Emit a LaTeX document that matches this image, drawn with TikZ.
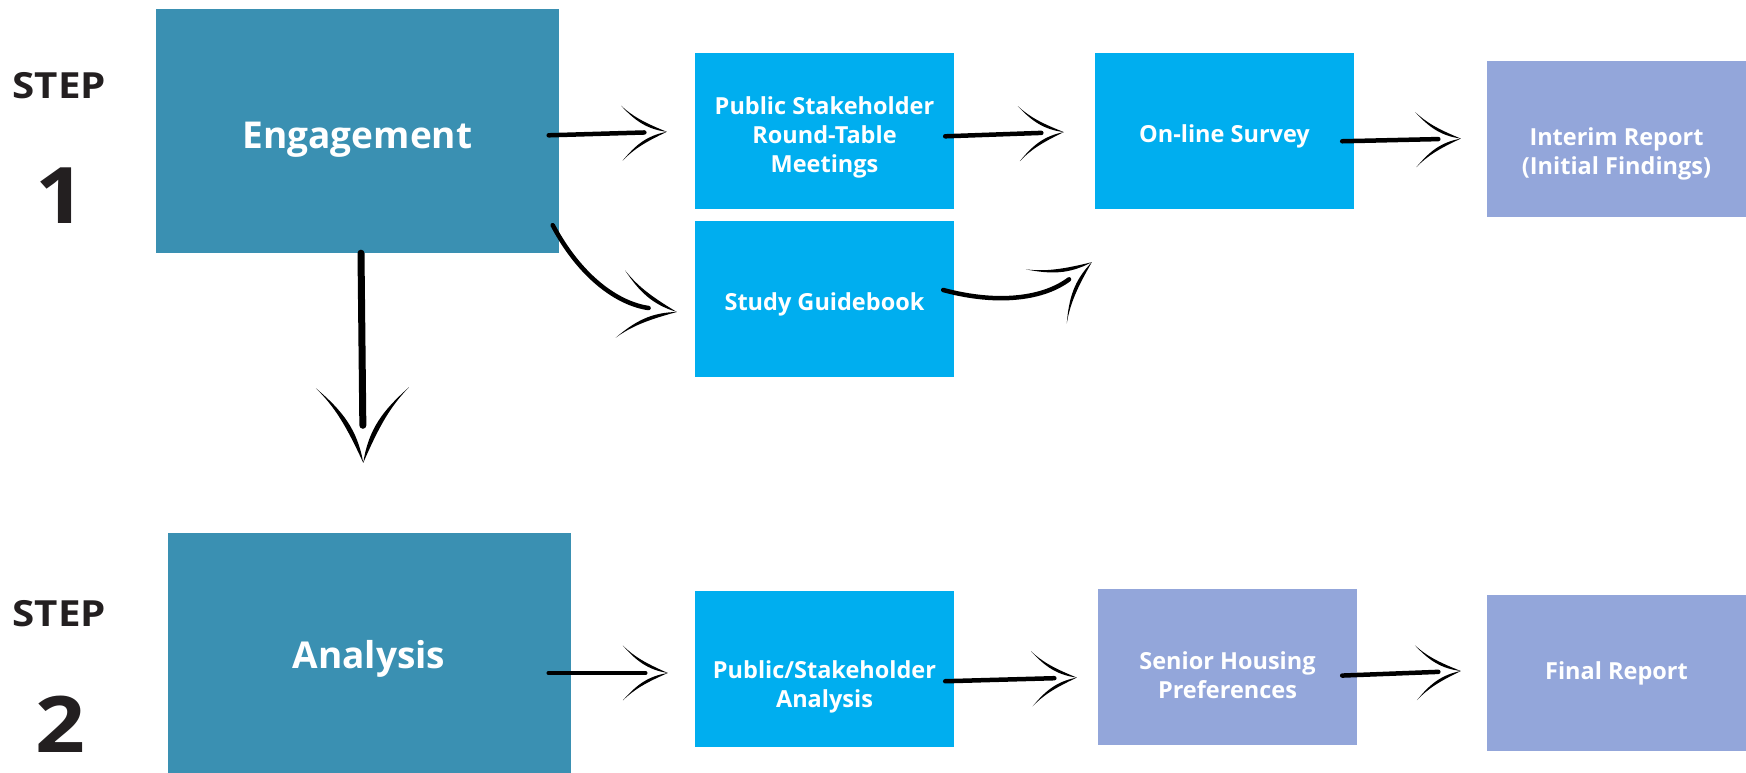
\documentclass[tikz,border=0pt]{standalone}
\usepackage{fontspec}
\setmainfont{Open Sans}
\newfontfamily\stepfont[FakeStretch=1.12]{Open Sans}
\usetikzlibrary{arrows.meta}

\definecolor{stageblue}{RGB}{58,144,178}
\definecolor{taskblue}{RGB}{0,174,239}
\definecolor{reportblue}{RGB}{147,166,218}
\definecolor{stepgray}{RGB}{35,31,32}

% invisible strut that pushes a node text down
\newcommand{\dropby}[1]{\rule{0pt}{#1}}

% hand drawn open arrow head
\pgfdeclarearrow{
  name = Brush,
  parameters = {\the\pgfarrowlength,\the\pgfarrowwidth},
  setup code = {
    \pgfarrowssettipend{0pt}
    \pgfarrowssetlineend{-.5\pgfarrowlength}
    \pgfarrowssetbackend{-\pgfarrowlength}
    \pgfarrowshullpoint{0pt}{0pt}
    \pgfarrowsupperhullpoint{-\pgfarrowlength}{.5\pgfarrowwidth}
    \pgfarrowssavethe\pgfarrowlength
    \pgfarrowssavethe\pgfarrowwidth
  },
  drawing code = {
    \pgfpathmoveto{\pgfqpoint{0pt}{0pt}}
    \pgfpathcurveto{\pgfqpoint{-.5\pgfarrowlength}{.18\pgfarrowwidth}}{\pgfqpoint{-.75\pgfarrowlength}{.3\pgfarrowwidth}}{\pgfqpoint{-\pgfarrowlength}{.5\pgfarrowwidth}}
    \pgfpathcurveto{\pgfqpoint{-.7\pgfarrowlength}{.22\pgfarrowwidth}}{\pgfqpoint{-.45\pgfarrowlength}{.06\pgfarrowwidth}}{\pgfqpoint{0pt}{0pt}}
    \pgfpathclose
    \pgfpathmoveto{\pgfqpoint{0pt}{0pt}}
    \pgfpathcurveto{\pgfqpoint{-.5\pgfarrowlength}{-.18\pgfarrowwidth}}{\pgfqpoint{-.75\pgfarrowlength}{-.3\pgfarrowwidth}}{\pgfqpoint{-\pgfarrowlength}{-.5\pgfarrowwidth}}
    \pgfpathcurveto{\pgfqpoint{-.7\pgfarrowlength}{-.22\pgfarrowwidth}}{\pgfqpoint{-.45\pgfarrowlength}{-.06\pgfarrowwidth}}{\pgfqpoint{0pt}{0pt}}
    \pgfpathclose
    \pgfusepathqfill
  },
  defaults = {length = 45pt, width = 55pt}
}

\begin{document}
\begin{tikzpicture}[x=1pt, y=1pt,
    stage/.style={fill=stageblue, text=white, minimum width=403pt, minimum height=244pt, inner sep=0pt, font=\bfseries\fontsize{37}{44}\selectfont},
    task/.style={fill=taskblue, text=white, align=center, minimum width=259pt, minimum height=156pt, inner sep=0pt, font=\bfseries\fontsize{23.5}{29}\selectfont},
    report/.style={task, fill=reportblue},
    steplabel/.style={text=stepgray, font=\stepfont\bfseries\fontsize{36}{40}\selectfont},
    stepnum/.style={text=stepgray, font=\stepfont\bfseries\fontsize{78}{80}\selectfont},
    sketch/.style={line width=4.5pt, line cap=round, -{Brush[length=45pt, width=55pt]}},
    bigsketch/.style={line width=7pt, line cap=round, -{Brush[length=75pt, width=93pt]}},
    bentsketch/.style={line width=4.5pt, line cap=round, -{Brush[length=57pt, width=68pt]}}]
        \useasboundingbox (0,0) rectangle (1746,773);
        % step 1
        \node[steplabel] at (59.5,687) (stepa) {STEP};
        \node[stepnum] at (60,577) (numa) {1};
        \node[stage] at (357.5,642) (eng) {\dropby{44.5pt}Engagement};
        \node[task] at (824.5,642) (psrt) {\dropby{31.5pt}Public Stakeholder\\ Round-Table\\ Meetings};
        \node[task] at (824.5,474) (sg) {\dropby{29pt}Study Guidebook};
        \node[task] at (1224.5,642) (ols) {\dropby{29pt}On-line Survey};
        \node[report] at (1616.5,633.5) (irep) {\dropby{46pt}Interim Report\\ (Initial Findings)};
        % step 2
        \node[steplabel] at (59.5,159) (stepb) {STEP};
        \node[stepnum] at (60,49) (numb) {2};
        \node[stage] at (369,118) (ana) {\dropby{35pt}Analysis};
        \node[task] at (824.5,104) (psa) {\dropby{53.5pt}Public/Stakeholder\\ Analysis};
        \node[report] at (1227.5,105.5) (shp) {\dropby{33.5pt}Senior Housing\\ Preferences};
        \node[report] at (1616.5,99.5) (frep) {Final Report};
        % arrows
        \draw[sketch, shorten <=-10.5pt, shorten >=28pt] ([yshift=-4pt]eng.east) -- (psrt.west);
        \draw[sketch, shorten <=-9pt, shorten >=31pt] ([yshift=-5pt]psrt.east) -- (ols.west);
        \draw[sketch, shorten <=-12pt, shorten >=26pt] ([yshift=-10pt]ols.east) -- ([yshift=1.5pt]irep.west);
        \draw[bentsketch] ([xshift=-6.5pt, yshift=28pt]eng.south east) to[out=-62, in=172] ([xshift=-18pt, yshift=-13pt]sg.west);
        \draw[bentsketch] ([xshift=-11pt, yshift=9pt]sg.east) to[out=-15, in=217] ([xshift=-3pt, yshift=-53pt]ols.south west);
        \draw[bigsketch, shorten >=70pt] ([xshift=3.5pt]eng.south) -- ([xshift=-5pt]ana.north);
        \draw[sketch, shorten <=-22pt, shorten >=27pt] ([yshift=-18pt]ana.east) -- ([yshift=-4pt]psa.west);
        \draw[sketch, shorten <=-9pt, shorten >=21pt] ([yshift=-12pt]psa.east) -- ([yshift=-9.5pt]shp.west);
        \draw[sketch, shorten <=-15pt, shorten >=26pt] ([yshift=-7.5pt]shp.east) -- ([yshift=3.5pt]frep.west);
    \end{tikzpicture}
\end{document}
